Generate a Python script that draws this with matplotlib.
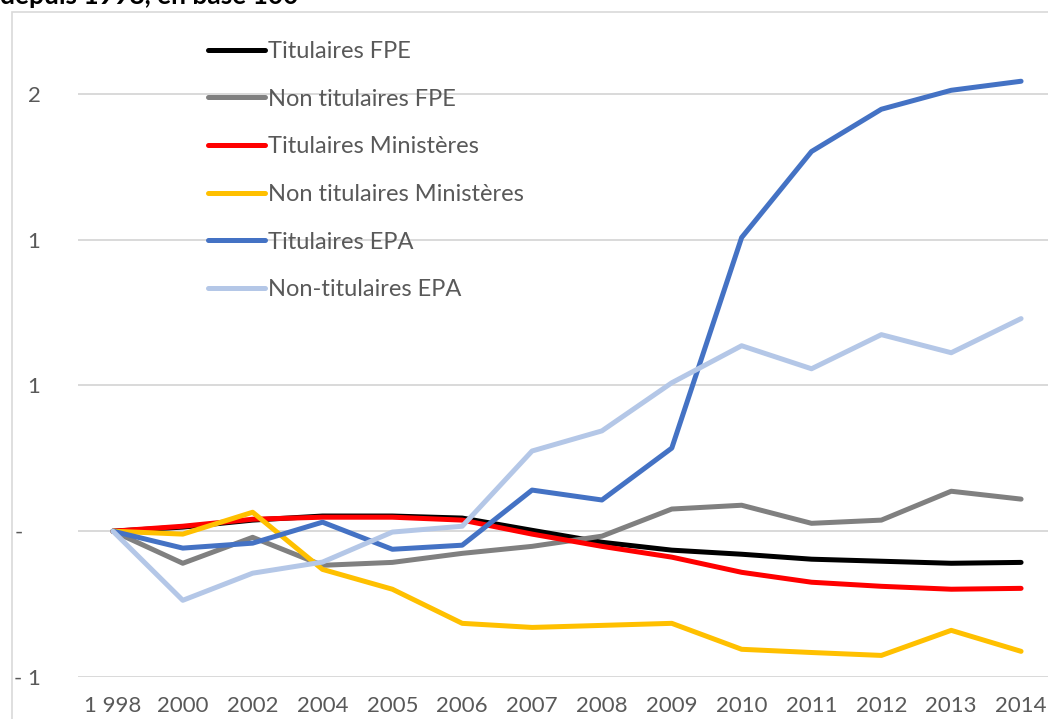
"""
Evolution des effectifs de la FPE depuis 1998
"""

import matplotlib.pyplot as plt
from matplotlib.patches import Rectangle

plt.rcParams['font.family'] = ['Lato', 'DejaVu Sans']

years = ['1 998', '2000', '2002', '2004', '2005', '2006', '2007',
         '2008', '2009', '2010', '2011', '2012', '2013', '2014']

titulaires_fpe = [0, 0.014, 0.038, 0.052, 0.052, 0.045, 0.003,
                  -0.038, -0.065, -0.079, -0.096, -0.103, -0.110, -0.107]
non_titulaires_fpe = [0, -0.110, -0.021, -0.117, -0.107, -0.076, -0.052,
                      -0.017, 0.076, 0.089, 0.027, 0.038, 0.137, 0.110]
titulaires_min = [0, 0.017, 0.041, 0.048, 0.048, 0.038, -0.010,
                  -0.052, -0.089, -0.141, -0.175, -0.189, -0.199, -0.196]
non_titulaires_min = [0, -0.010, 0.065, -0.131, -0.199, -0.316, -0.330,
                      -0.323, -0.316, -0.405, -0.416, -0.426, -0.340, -0.412]
titulaires_epa = [0, -0.058, -0.041, 0.031, -0.062, -0.048, 0.141,
                  0.107, 0.285, 1.007, 1.302, 1.447, 1.512, 1.543]
non_titulaires_epa = [0, -0.237, -0.144, -0.106, -0.003, 0.017, 0.275,
                      0.344, 0.509, 0.636, 0.557, 0.674, 0.612, 0.729]

series = [
    ('Titulaires FPE', titulaires_fpe, '#000000'),
    ('Non titulaires FPE', non_titulaires_fpe, '#808080'),
    ('Titulaires Ministères', titulaires_min, '#FF0000'),
    ('Non titulaires Ministères', non_titulaires_min, '#FFC000'),
    ('Titulaires EPA', titulaires_epa, '#4472C4'),
    ('Non-titulaires EPA', non_titulaires_epa, '#B4C7E7'),
]

yticks = [-0.5, 0, 0.5, 1.0, 1.5]
ytick_labels = ['- 1', '-   ', '1', '1', '2']

W, H = 1048, 719
fig = plt.figure(figsize=(W / 100, H / 100), dpi=100)

# chart border (light gray, left + top visible)
fig.patches.append(Rectangle((12 / W, -0.1), 1.2, (H - 12) / H + 0.1,
                             transform=fig.transFigure, fill=False,
                             edgecolor='#D9D9D9', lw=1.2))
fig.text(0, 1 - 4.5 / H, 'depuis 1998, en base 100', fontsize=19,
         fontweight='bold', color='black', va='baseline', ha='left')

left, right, top, bottom = 78, 1056, 20, 677
ax = fig.add_axes([left / W, 1 - bottom / H, (right - left) / W,
                   (bottom - top) / H])
ymax = (531 - top) / 291.5
ax.set_xlim(-0.5, len(years) - 0.5)
ax.set_ylim(-0.5, ymax)

x = range(len(years))
for name, vals, col in series:
    ax.plot(x, vals, color=col, lw=3.6, label=name,
            solid_capstyle='round', solid_joinstyle='round')

ax.set_yticks(yticks)
ax.set_yticklabels(ytick_labels)
ax.set_xticks(list(x))
ax.set_xticklabels(years)
ax.tick_params(length=0, colors='#595959', labelsize=16)
ax.tick_params(axis='y', pad=27)
ax.tick_params(axis='x', pad=14)
ax.grid(axis='y', color='#D9D9D9', lw=1.4)
ax.set_axisbelow(True)
for s in ax.spines.values():
    s.set_visible(False)

leg = ax.legend(loc='upper left', bbox_to_anchor=(208 / W, 1 - 41 / H),
                bbox_transform=fig.transFigure, frameon=False, fontsize=17,
                handlelength=2.4, handletextpad=0.12, labelspacing=1.13,
                borderpad=0, borderaxespad=0)
for t in leg.get_texts():
    t.set_color('#595959')

fig.savefig('out.png', dpi=100)
